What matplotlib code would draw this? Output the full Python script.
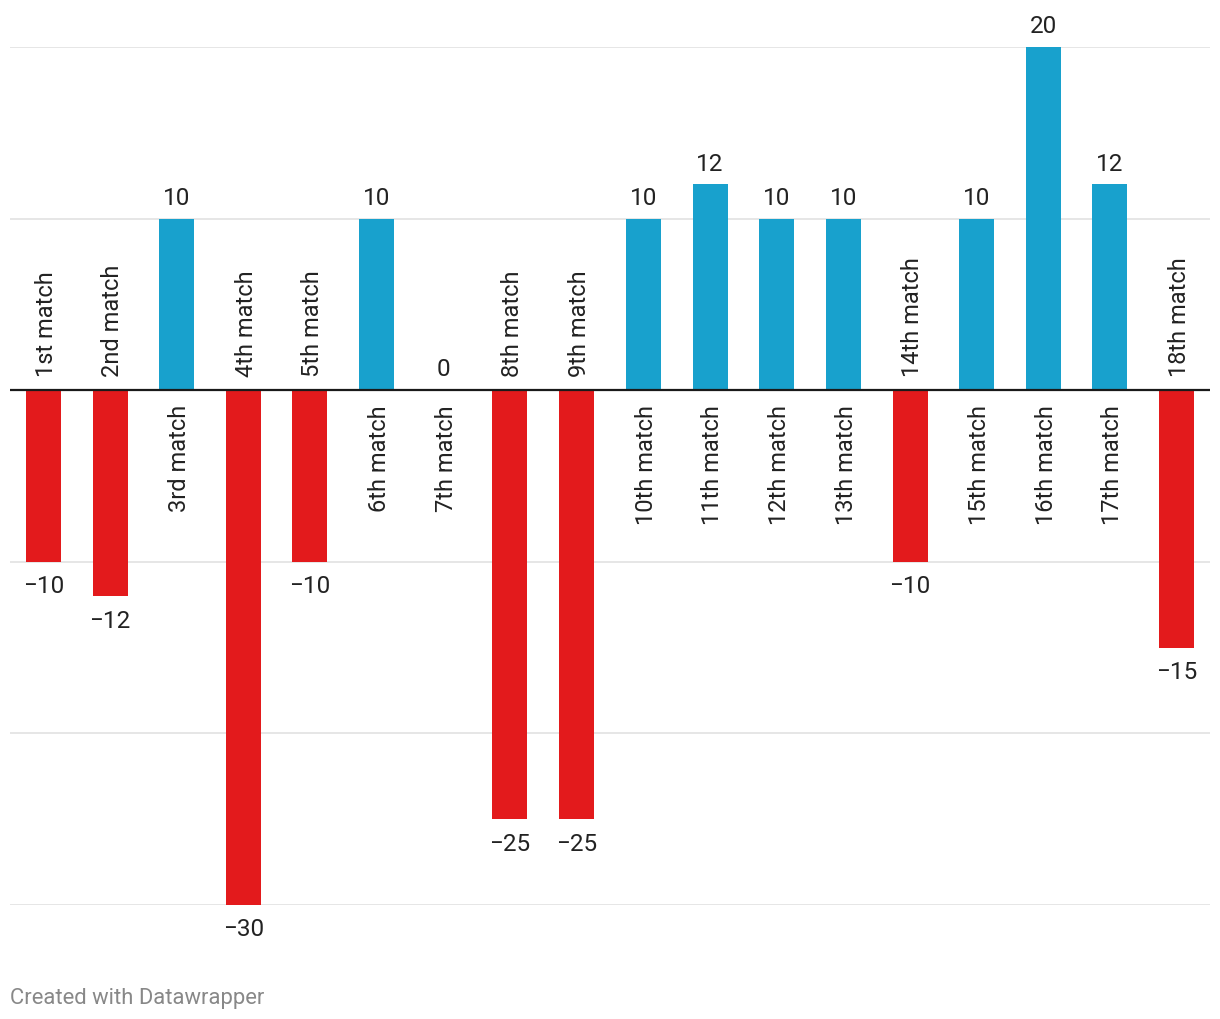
import matplotlib.pyplot as plt

plt.rcParams['font.family'] = ['Roboto', 'DejaVu Sans']

# Data
matches = ['1st match', '2nd match', '3rd match', '4th match', '5th match', '6th match',
           '7th match', '8th match', '9th match', '10th match', '11th match', '12th match',
           '13th match', '14th match', '15th match', '16th match', '17th match', '18th match']
values = [-10, -12, 10, -30, -10, 10, 0, -25, -25, 10, 12, 10, 10, -10, 10, 20, 12, -15]
gridvals = [20, 10, -10, -20, -30]

red = '#e31a1c'
blue = '#18a1cd'

fig = plt.figure(figsize=(12.2, 10.2), dpi=100)
ax = fig.add_axes([10/1220, 114/1020, 1200/1220, 858/1020])

x = list(range(len(values)))
colors = [blue if v >= 0 else red for v in values]
ax.bar(x, values, width=0.525, color=colors, zorder=2)

for g in gridvals:
    ax.axhline(g, color='#e2e2e2', lw=1.2, zorder=1)
ax.axhline(0, color='#1a1a1a', lw=1.6, zorder=3)

for i, (m, v) in enumerate(zip(matches, values)):
    label = str(v).replace('-', '\u2212')
    if v >= 0:
        ax.annotate(label, (i, v), xytext=(0, 7), textcoords='offset points',
                    ha='center', va='bottom', fontsize=17.5, color='#222222')
        ax.annotate(m, (i, 0), xytext=(2, -10), textcoords='offset points',
                    ha='center', va='top', rotation=90, fontsize=17, color='#222222')
    else:
        ax.annotate(label, (i, v), xytext=(0, -9), textcoords='offset points',
                    ha='center', va='top', fontsize=17.5, color='#222222')
        ax.annotate(m, (i, 0), xytext=(2, 10), textcoords='offset points',
                    ha='center', va='bottom', rotation=90, fontsize=17, color='#222222')

ax.set_xlim(-0.5, 17.5)
ax.set_ylim(-30, 20)
ax.axis('off')

fig.text(10/1220, 1 - 999/1020, 'Created with Datawrapper', fontsize=15.8,
         color='#888888', ha='left', va='center')

plt.savefig('out.png', dpi=100)
